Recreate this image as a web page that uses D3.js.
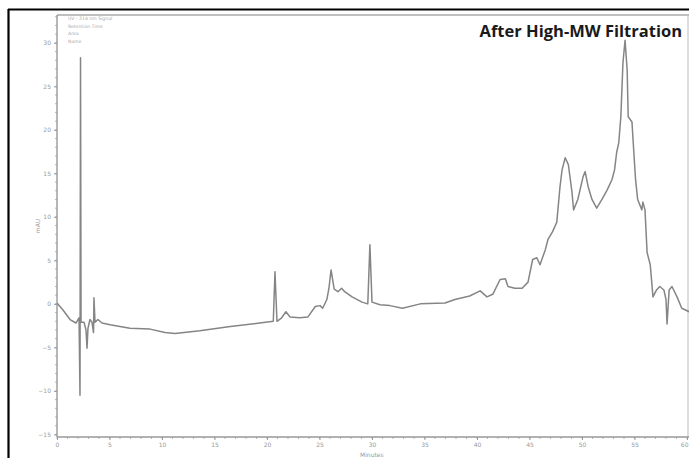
<!DOCTYPE html>
<html>
<head>
<meta charset="utf-8">
<script src="https://cdn.jsdelivr.net/npm/d3@7"></script>
<style>
  html, body { margin: 0; padding: 0; background: #fff; }
  svg { display: block; }
</style>
</head>
<body>
<svg id="chart" width="689" height="458"></svg>
<script>
// Chromatogram trace: retention time (min) and absorbance (mAU)
const timeMin = [0, 0.57, 1.24, 1.81, 2.1, 2.19, 2.24, 2.29, 2.57, 2.76, 2.86, 2.95, 3.14, 3.33, 3.48, 3.52, 3.62, 3.9, 4.29, 5.05,
  6.95, 8.86, 10.29, 11.24, 13.6, 16.5, 19.3, 20.6, 20.76, 20.95, 21.4, 21.8, 22.2, 23.1, 23.9, 24.6, 25.05, 25.3, 25.7, 25.9,
  26.1, 26.4, 26.76, 27.1, 27.4, 28.1, 29.05, 29.6, 29.8, 30.0, 30.76, 31.7, 32.9, 34.6, 36.95, 37.9, 39.3, 40.3, 40.95, 41.5,
  42.2, 42.7, 42.95, 43.6, 44.3, 44.86, 45.3, 45.7, 46.0, 46.5, 46.76, 47.2, 47.6, 47.9, 48.1, 48.4, 48.7, 49.05, 49.2, 49.6,
  50.1, 50.3, 50.6, 50.95, 51.4, 51.9, 52.4, 52.86, 53.1, 53.3, 53.5, 53.7, 53.9, 54.1, 54.3, 54.4, 54.76, 54.86, 55.1, 55.3,
  55.7, 55.8, 56.0, 56.2, 56.5, 56.76, 57.1, 57.4, 57.8, 58.0, 58.1, 58.3, 58.57, 59.05, 59.5, 60.2];
const absorbance = [0.1, -0.7, -1.8, -2.2, -1.6, -10.5, 28.3, -2.1, -2.1, -3.0, -5.1, -2.8, -1.8, -2.1, -3.3, 0.7, -2.1, -1.8, -2.2, -2.4,
  -2.8, -2.9, -3.3, -3.4, -3.1, -2.6, -2.2, -2.0, 3.7, -2.0, -1.6, -0.9, -1.5, -1.6, -1.5, -0.3, -0.2, -0.5, 0.5, 1.8,
  3.9, 1.7, 1.4, 1.8, 1.4, 0.8, 0.2, 0.0, 6.8, 0.2, -0.1, -0.2, -0.5, 0.0, 0.1, 0.5, 0.9, 1.5, 0.8, 1.1,
  2.8, 2.9, 2.0, 1.8, 1.8, 2.5, 5.1, 5.3, 4.5, 6.2, 7.4, 8.3, 9.4, 13.4, 15.4, 16.8, 16.0, 12.8, 10.8, 12.0,
  14.6, 15.2, 13.4, 12.0, 11.0, 12.0, 13.1, 14.3, 15.4, 17.4, 18.5, 21.5, 27.7, 30.3, 26.9, 21.5, 20.9, 18.9, 14.3, 12.0,
  10.8, 11.7, 10.8, 5.9, 4.5, 0.8, 1.6, 2.0, 1.6, 0.5, -2.3, 1.6, 2.0, 0.8, -0.5, -0.9];

const xTicks = [0, 5, 10, 15, 20, 25, 30, 35, 40, 45, 50, 55, 60];
const yTicks = [-15, -10, -5, 0, 5, 10, 15, 20, 25, 30];
const legendLines = ["UV - 214 nm Signal", "Retention Time", "Area", "Name"];
const title = "After High-MW Filtration";

const svg = d3.select("#chart");
const plot = { left: 57, right: 687, top: 15, bottom: 437 };

const x = d3.scaleLinear().domain([0, 60]).range([plot.left, plot.right]);
const y = d3.scaleLinear().domain([-15.3, 33.2]).range([plot.bottom, plot.top]);

// outer black frame
svg.append("line").attr("x1", 8).attr("x2", 689).attr("y1", 9.5).attr("y2", 9.5)
  .attr("stroke", "#000").attr("stroke-width", 2);
svg.append("line").attr("x1", 8.5).attr("x2", 8.5).attr("y1", 9).attr("y2", 458)
  .attr("stroke", "#000").attr("stroke-width", 2.2);

// plot frame (top and right edges)
svg.append("line").attr("x1", plot.left).attr("x2", 689).attr("y1", 15).attr("y2", 15)
  .attr("stroke", "#aaa").attr("stroke-width", 1.6);
svg.append("line").attr("x1", 688).attr("x2", 688).attr("y1", 15).attr("y2", plot.bottom)
  .attr("stroke", "#bbb").attr("stroke-width", 1);

// minor ticks
const gMinor = svg.append("g").attr("stroke", "#999").attr("stroke-width", 0.7);
gMinor.selectAll("line.ym").data(d3.range(-15, 34, 1)).join("line")
  .attr("x1", plot.left - 2).attr("x2", plot.left)
  .attr("y1", d => y(d)).attr("y2", d => y(d));
gMinor.selectAll("line.xm").data(d3.range(0, 61, 1)).join("line")
  .attr("x1", d => x(d)).attr("x2", d => x(d))
  .attr("y1", plot.bottom).attr("y2", plot.bottom + 2);

// axes
const yAxis = svg.append("g").attr("transform", `translate(${plot.left},0)`)
  .call(d3.axisLeft(y).tickValues(yTicks).tickSize(3).tickPadding(3).tickFormat(d3.format("d")));
const xAxis = svg.append("g").attr("transform", `translate(0,${plot.bottom})`)
  .call(d3.axisBottom(x).tickValues(xTicks).tickSize(3).tickPadding(3).tickFormat(d3.format("d")));
[yAxis, xAxis].forEach(g => {
  g.select(".domain").attr("stroke", "#999").attr("stroke-width", 1.4);
  g.selectAll(".tick line").attr("stroke", "#999");
  g.selectAll(".tick text").attr("fill", "#999").attr("font-size", 6)
    .attr("font-family", "DejaVu Sans, sans-serif");
});
yAxis.select(".domain").attr("d", `M0,${plot.top}V${plot.bottom}`);
xAxis.select(".domain").attr("d", `M${plot.left},0H689`);
// keep the last minute label inside the frame
xAxis.selectAll(".tick text").filter(d => d === 60).attr("text-anchor", "end").attr("dx", 1);

// axis titles
svg.append("text").attr("transform", `translate(40,226) rotate(-90)`)
  .attr("text-anchor", "middle").attr("font-size", 6).attr("fill", "#999")
  .attr("font-family", "DejaVu Sans, sans-serif").text("mAU");
svg.append("text").attr("x", 360).attr("y", 457)
  .attr("font-size", 6).attr("fill", "#999")
  .attr("font-family", "DejaVu Sans, sans-serif").text("Minutes");

// legend block
svg.append("g").selectAll("text").data(legendLines).join("text")
  .attr("x", 68).attr("y", (d, i) => 20 + i * 7.5)
  .attr("font-size", 4.6).attr("fill", "#aaa")
  .attr("font-family", "DejaVu Sans, sans-serif").text(d => d);

// trace
svg.append("clipPath").attr("id", "plotClip").append("rect")
  .attr("x", plot.left).attr("y", plot.top).attr("width", 689 - plot.left).attr("height", plot.bottom - plot.top);
const pts = timeMin.map((t, i) => [t, absorbance[i]]);
const line = d3.line().x(d => x(d[0])).y(d => y(d[1]));
svg.append("path").datum(pts).attr("clip-path", "url(#plotClip)")
  .attr("d", line).attr("fill", "none")
  .attr("stroke", "#858585").attr("stroke-width", 1.5).attr("stroke-linejoin", "round");

// title
svg.append("text").attr("x", 682).attr("y", 37).attr("text-anchor", "end")
  .attr("font-size", 16.5).attr("font-weight", "bold").attr("fill", "#1a1a1a")
  .attr("font-family", "Open Sans, sans-serif").text(title);
</script>
</body>
</html>
